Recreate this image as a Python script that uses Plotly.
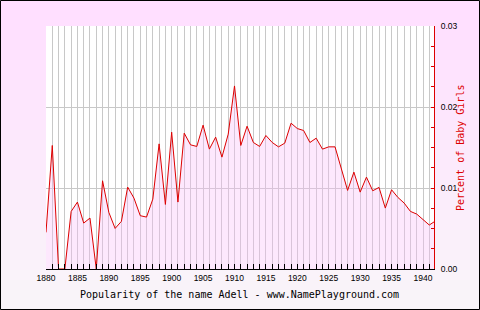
import plotly.graph_objects as go

years = list(range(1880, 1943))
percent = [
    0.00452, 0.01525, 0.0, 0.0, 0.0071, 0.00826, 0.00567, 0.00629, 0.0, 0.01089,
    0.00699, 0.00501, 0.00588, 0.01011, 0.00875, 0.00658, 0.00641, 0.00863, 0.01545, 0.00797,
    0.01689, 0.00826, 0.01677, 0.01533, 0.01513, 0.01776, 0.0148, 0.01628, 0.01381, 0.01665,
    0.0226, 0.01525, 0.01763, 0.01562, 0.01513, 0.01648, 0.01562, 0.01508, 0.01554, 0.018,
    0.01734, 0.0171, 0.01562, 0.01615, 0.0148, 0.01508, 0.01508, 0.01245, 0.0097, 0.01196,
    0.00949, 0.01134, 0.00966, 0.01007, 0.00752, 0.00978, 0.00884, 0.00814, 0.00711, 0.00678,
    0.00608, 0.00543, 0.00594,
]
title_text = "Popularity of the name Adell - www.NamePlayground.com"
y_title = "Percent of Baby Girls"
y_ticks = [0.0, 0.01, 0.02, 0.03]
y_labels = ["0.00", "0.01", "0.02", "0.03"]

W, H = 480, 310
L, R, T, B = 46, 46, 26, 41
PW, PH = W - L - R, H - T - B

def px_to_paper_x(px):
    return (px - L) / PW

def px_to_paper_y(py):
    return (H - B - py) / PH

fig = go.Figure()
fig.add_trace(go.Scatter(
    x=years, y=percent, mode="lines",
    line=dict(color="#dd0000", width=1),
    fill="tozeroy", fillcolor="rgba(250,190,250,0.35)",
    hoverinfo="skip", showlegend=False,
))

shapes = []
# gradient background
n = 31
top = (255, 222, 255)
bot = (249, 245, 249)
for i in range(n):
    f = i / (n - 1)
    c = tuple(round(top[k] + (bot[k] - top[k]) * f) for k in range(3))
    shapes.append(dict(
        type="rect", xref="paper", yref="paper", layer="below",
        x0=px_to_paper_x(-5), x1=px_to_paper_x(W + 5),
        y0=px_to_paper_y(i * 10), y1=px_to_paper_y(i * 10 + 10.5),
        fillcolor="rgb(%d,%d,%d)" % c, line=dict(width=0),
    ))
# white plot area
shapes.append(dict(
    type="rect", xref="paper", yref="paper", layer="below",
    x0=0, x1=1, y0=0, y1=1, fillcolor="white", line=dict(width=0),
))
# border
shapes.append(dict(
    type="rect", xref="paper", yref="paper", layer="above",
    x0=px_to_paper_x(0.5), x1=px_to_paper_x(W - 0.5),
    y0=px_to_paper_y(H - 0.5), y1=px_to_paper_y(0.5),
    line=dict(color="black", width=1), fillcolor="rgba(0,0,0,0)",
))

annotations = [
    dict(text=title_text, xref="paper", yref="paper",
         x=px_to_paper_x(239), y=px_to_paper_y(294), showarrow=False,
         xanchor="center", yanchor="middle",
         font=dict(family="DejaVu Sans Mono", size=10, color="black")),
    dict(text=y_title, xref="paper", yref="paper", textangle=-90,
         x=px_to_paper_x(460), y=px_to_paper_y(148), showarrow=False,
         xanchor="center", yanchor="middle",
         font=dict(family="DejaVu Sans Mono", size=10, color="#dd0000")),
]

fig.update_layout(
    width=W, height=H,
    margin=dict(l=L, r=R, t=T, b=B, pad=0),
    paper_bgcolor="rgba(0,0,0,0)",
    plot_bgcolor="white",
    shapes=shapes,
    annotations=annotations,
    showlegend=False,
    xaxis=dict(
        range=[1880, 1941.75], tick0=1880, dtick=5,
        showgrid=True, gridcolor="#c8c8c8", gridwidth=1,
        ticks="inside", ticklen=5, tickcolor="black", tickwidth=1,
        showline=True, linecolor="black", linewidth=1,
        tickfont=dict(family="Liberation Sans", size=8.5, color="black"),
        ticklabelstandoff=1,
        zeroline=False, fixedrange=True,
        minor=dict(dtick=1, tick0=1880, showgrid=True, gridcolor="#c8c8c8",
                   gridwidth=1, ticks="inside", ticklen=5, tickcolor="black"),
    ),
    yaxis=dict(
        side="right", range=[0, 0.03],
        tickvals=y_ticks, ticktext=y_labels,
        showgrid=True, gridcolor="#c8c8c8", gridwidth=1,
        ticks="inside", ticklen=3, tickcolor="#dd0000",
        showline=True, linecolor="#dd0000", linewidth=1,
        tickfont=dict(family="Liberation Sans", size=8.5, color="black"),
        ticklabelstandoff=4,
        zeroline=False, fixedrange=True,
        minor=dict(dtick=0.0025, tick0=0, ticks="inside", ticklen=3,
                   tickcolor="#dd0000", showgrid=False),
    ),
)

fig.write_html("out.html", config={"displayModeBar": False})
